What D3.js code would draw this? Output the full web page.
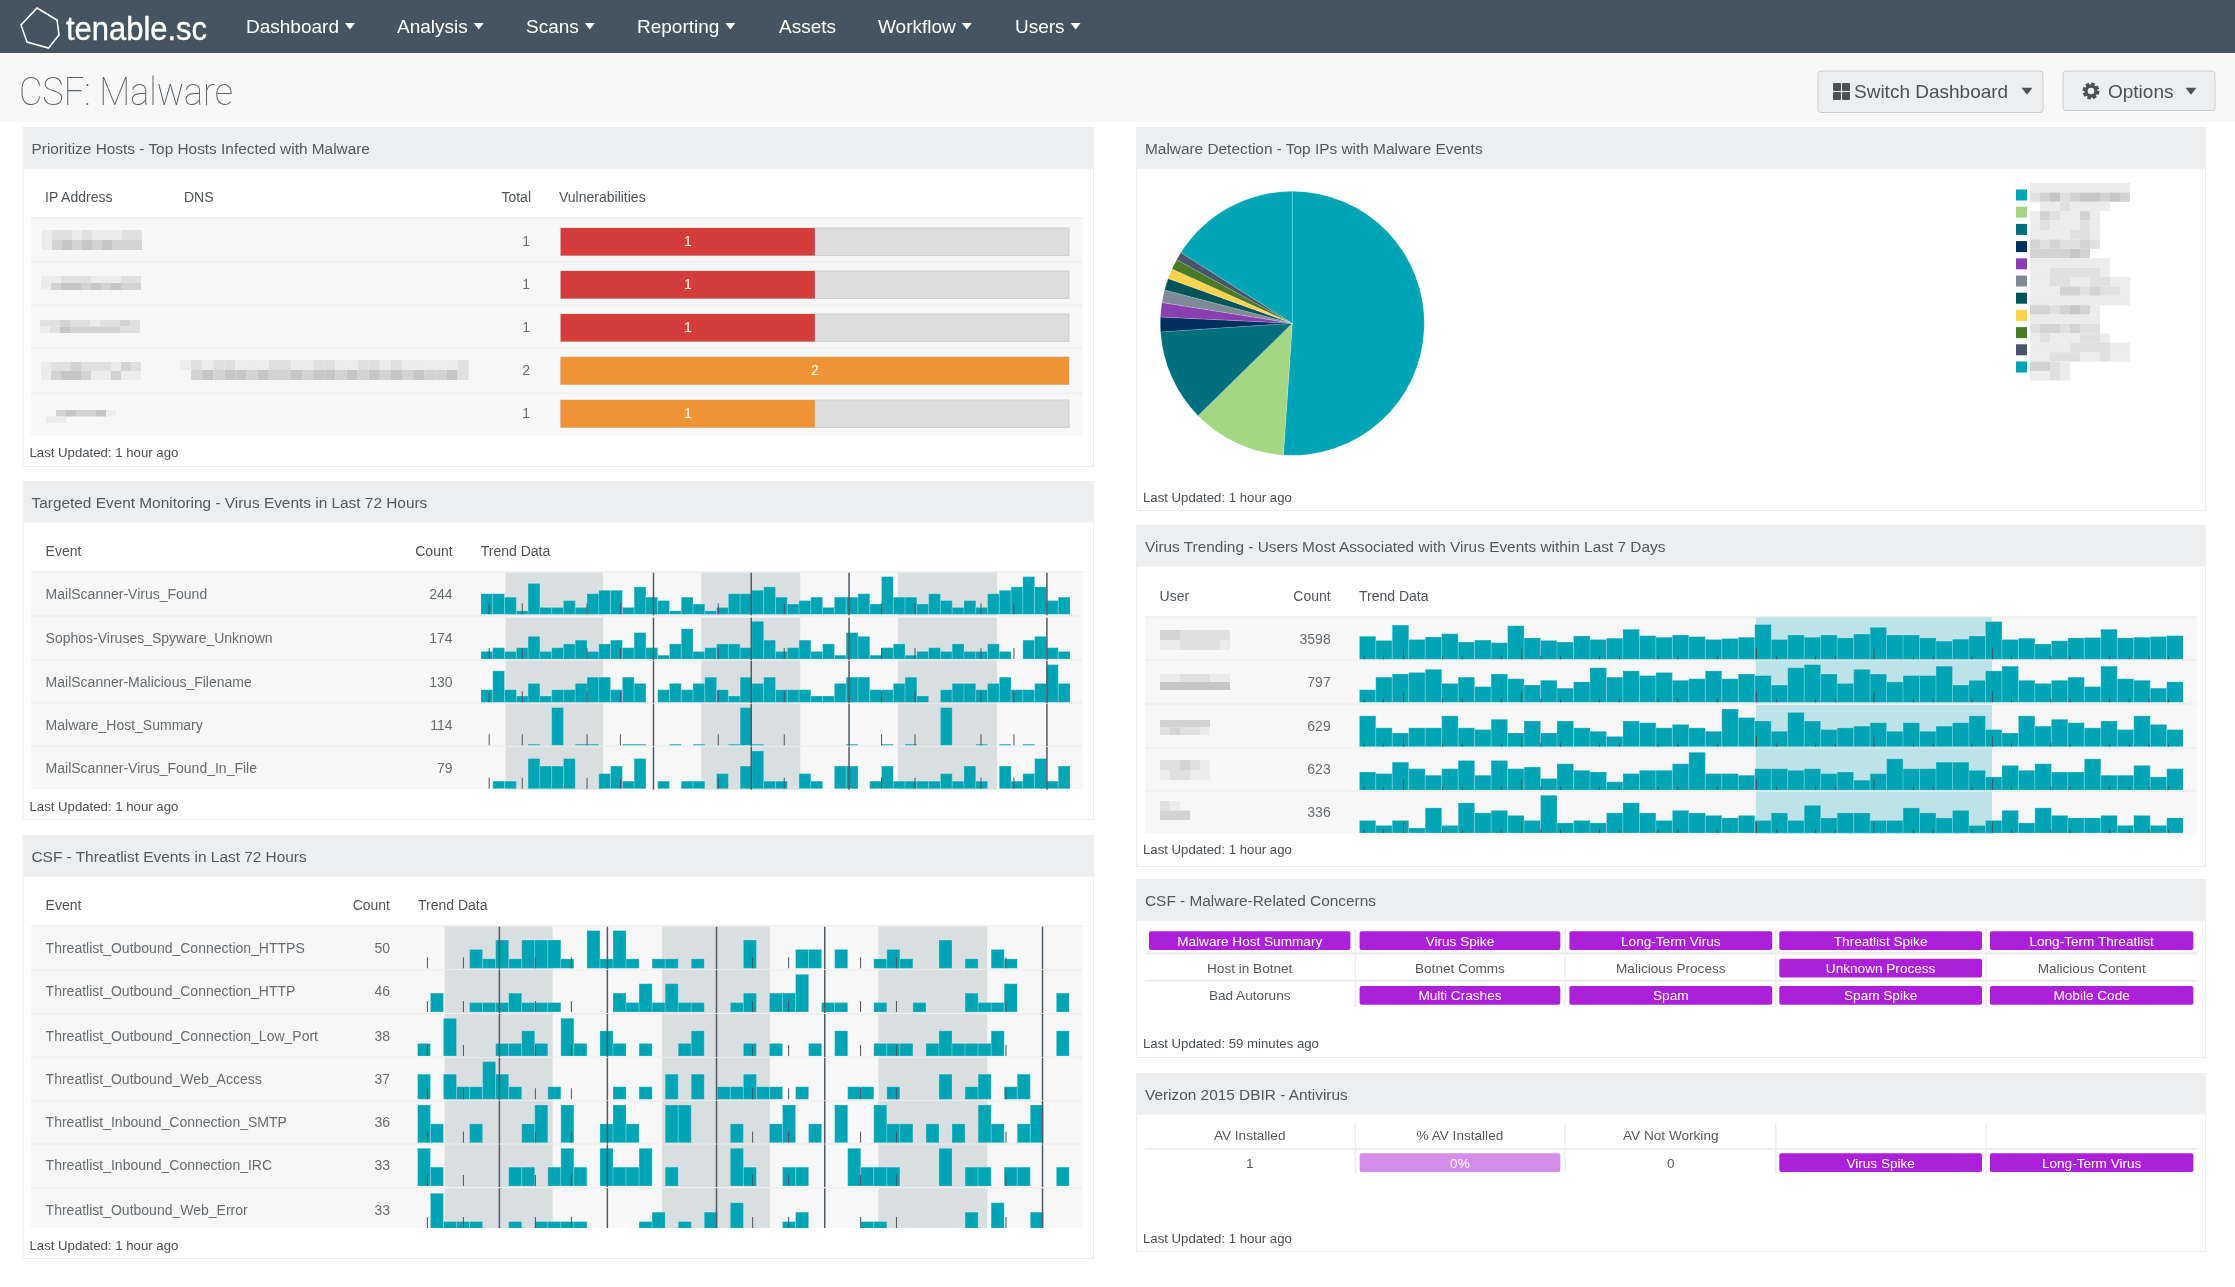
<!DOCTYPE html>
<html>
<head>
<meta charset="utf-8">
<title>CSF: Malware</title>
<script src="https://cdn.jsdelivr.net/npm/d3@7"></script>
<style>
  body { margin: 0; background: #fff; overflow: hidden; }
  text { font-family: "Liberation Sans", Arial, sans-serif; filter: blur(0.3px); }
</style>
</head>
<body>
<svg id="page" width="2235" height="1287"></svg>
<script>
// nav + page text
const navItems = ["Dashboard", "Analysis", "Scans", "Reporting", "Assets", "Workflow", "Users"];
const navHasCaret = [true, true, true, true, false, true, true];

// hosts table
const hostTotals = [1, 1, 1, 2, 1];
const hostSeverity = ["high", "high", "high", "medium", "medium"];
const hostMax = 2;

// pie (share of malware events)
const pieShares = [51.1, 11.6, 11.3, 1.8, 1.75, 1.55, 1.45, 1.25, 1.25, 1.0, 16.0];
const pieColors = ["#00a5b5", "#a4d784", "#00707e", "#00315e", "#8a3fb0", "#7e8b97", "#00555a", "#fdd24e", "#4a7a24", "#47566a", "#00a5b5"];

// virus events, 72 hours
const virusNames = ["MailScanner-Virus_Found", "Sophos-Viruses_Spyware_Unknown", "MailScanner-Malicious_Filename", "Malware_Host_Summary", "MailScanner-Virus_Found_In_File"];
const virusCounts = [244, 174, 130, 114, 79];
const virusFound = [6,6,5,1,9,2,2,4,2,6,7,7,2,8,5,4,1,5,3,1,2,6,6,7,8,5,3,4,5,2,5,5,6,3,11,5,5,3,6,4,2,4,2,6,7,8,11,8,4,5];
const sophosUnknown = [2,3,2,3,6,2,3,4,5,2,4,5,3,7,3,1,4,8,2,3,4,4,3,10,5,2,3,5,2,4,1,7,6,1,3,4,1,2,3,2,4,2,2,4,2,0,5,6,3,2];
const maliciousFilename = [2,5,2,1,3,1,2,2,3,4,4,2,4,3,0,2,3,2,3,4,2,1,4,3,4,2,2,2,1,1,3,4,4,2,2,3,4,1,0,2,3,3,2,3,4,2,2,3,6,3];
const malwareHostSummary = [0,0,0,0,1,0,33,0,1,1,0,0,1,1,0,0,1,0,1,0,0,1,33,1,0,0,0,0,0,0,0,1,0,0,1,0,1,0,0,33,0,0,1,0,1,0,1,0,0,0];
const virusFoundInFile = [0,1,1,0,4,3,3,4,0,0,2,3,1,4,0,1,0,1,1,0,2,0,3,5,1,1,0,2,1,0,3,3,0,1,3,1,1,1,1,2,1,3,1,0,3,1,2,4,1,3];
const virusBands = [[2.09, 10.36], [18.7, 27.1], [35.4, 43.8]];
const virusShortTicks = [0.65, 3.46, 8.96, 11.79, 20.1, 25.7, 33.96, 36.8, 42.4, 45.2];
const virusTallTicks = [14.6, 22.9, 31.2, 48];

// threatlist events, 72 hours
const threatNames = ["Threatlist_Outbound_Connection_HTTPS", "Threatlist_Outbound_Connection_HTTP", "Threatlist_Outbound_Connection_Low_Port", "Threatlist_Outbound_Web_Access", "Threatlist_Inbound_Connection_SMTP", "Threatlist_Inbound_Connection_IRC", "Threatlist_Outbound_Web_Error"];
const threatCounts = [50, 46, 38, 37, 36, 33, 33];
const threatHttps = [0,0,0,0,2,1,3,1,3,3,3,1,0,4,1,4,1,0,1,1,0,1,0,0,0,3,0,0,0,2,2,0,2,0,0,1,2,1,0,0,3,0,1,0,2,1,0,0,0,0];
const threatHttp = [0,2,0,0,1,1,1,2,1,1,1,0,0,0,0,2,1,3,1,3,1,1,0,0,1,2,0,2,2,4,0,1,1,0,0,1,0,0,1,0,0,0,2,1,1,3,0,0,0,2];
const threatLowPort = [1,0,3,0,0,0,1,1,2,1,0,3,1,0,2,1,0,1,0,0,1,2,0,0,0,1,0,1,0,0,1,0,2,0,0,1,1,1,0,1,2,1,1,1,2,0,0,0,0,2];
const threatWebAccess = [2,0,2,1,1,3,2,1,0,0,1,0,0,0,0,1,0,1,0,2,0,2,0,1,1,2,1,1,0,1,0,0,0,1,1,0,1,0,0,0,2,0,1,2,0,1,2,0,0,0];
const threatSmtp = [2,1,0,0,1,0,0,0,1,2,0,2,0,0,1,2,1,0,0,2,2,0,0,0,1,0,0,1,2,0,1,0,2,0,0,2,1,1,0,1,0,1,0,2,1,0,1,2,0,0];
const threatIrc = [2,1,0,0,0,0,0,1,1,0,1,2,1,0,2,1,1,2,0,1,0,0,0,0,2,1,0,0,1,1,0,0,0,2,1,1,1,0,0,0,2,0,1,1,0,1,1,0,0,1];
const threatWebError = [0,4,1,1,1,0,0,1,0,1,1,1,1,0,0,0,0,1,2,0,1,0,2,0,3,0,0,0,1,2,0,0,0,0,1,1,0,0,0,0,0,0,2,0,3,0,0,2,0,0];
const threatBands = [[2.09, 10.37], [18.76, 27.04], [35.35, 43.7]];
const threatShortTicks = [0.73, 3.49, 9.01, 11.77, 25.67, 28.43, 33.95, 36.7, 45.1];
const threatTallTicks = [6.25, 14.53, 22.9, 31.2, 47.9];

// virus trending, 7 days
const userCounts = [3598, 797, 629, 623, 336];
const userTrendA = [72,59,107,62,70,80,54,60,52,105,67,59,54,73,62,66,94,74,69,76,71,62,65,69,109,62,76,69,76,67,79,100,76,76,67,57,63,73,118,62,66,48,58,67,68,94,67,69,71,74];
const userTrendB = [8,16,18,19,21,12,16,10,18,15,11,14,9,13,22,16,20,17,19,14,15,20,15,18,17,11,22,24,18,12,21,18,13,17,17,23,11,14,20,23,14,12,14,16,10,23,15,14,9,13];
const userTrendC = [18,11,8,11,11,18,11,10,16,8,15,8,15,11,9,6,15,14,11,13,11,9,22,17,15,9,20,15,10,11,12,14,9,14,9,12,14,18,10,8,18,12,16,14,11,15,10,18,13,10];
const userTrendD = [11,10,17,13,9,13,18,9,18,13,14,7,16,12,11,5,10,12,12,16,23,10,10,9,13,13,12,13,10,11,6,10,19,13,13,17,17,12,8,15,12,16,11,11,19,9,9,15,8,13];
const userTrendE = [5,3,5,2,10,3,12,8,9,7,5,15,4,5,4,8,12,8,5,9,8,7,6,7,5,8,5,11,6,8,8,5,5,10,8,6,9,3,5,9,4,10,7,6,6,7,3,7,3,6];
const userBands = [[24.07, 38.4]];
const userShortTicks = [0.27, 1.43, 5.03, 6.22, 8.59, 10.99, 12.18, 14.55, 15.75, 18.1, 19.3, 21.7, 25.3, 27.66, 28.86, 33.6, 34.8, 37.15, 39.55, 41.94, 43.1, 45.5, 46.7, 47.9, 49.07];
const userMidTicks = [2.66, 9.82, 24.07, 31.2, 38.4];

// concerns matrix: name, then whether the cell is lit
const concernLabels = [
  ["Malware Host Summary", "Virus Spike", "Long-Term Virus", "Threatlist Spike", "Long-Term Threatlist"],
  ["Host in Botnet", "Botnet Comms", "Malicious Process", "Unknown Process", "Malicious Content"],
  ["Bad Autoruns", "Multi Crashes", "Spam", "Spam Spike", "Mobile Code"]
];
const concernLit = [[1, 1, 1, 1, 1], [0, 0, 0, 1, 0], [0, 1, 1, 1, 1]];
const avHeader = ["AV Installed", "% AV Installed", "AV Not Working", "", ""];
const avValues = ["1", "0%", "0", "Virus Spike", "Long-Term Virus"];

// redacted names, digits are how dark each mosaic cell is
const hostBlur = [
  ["1221211122", "1343434333"],
  ["1122211122", "1344343433"],
  ["2232212232", "1243333322"],
  ["1223222132", "1344311311"],
  ["0343341", "1100000"]
];
const dnsBlur = ["12122111221122112212111112", "03434434334344343434343342"];
const userBlur = [
  ["3322222", "1122221"],
  ["1122211", "4444444"],
  ["33333", "23221"],
  ["22321", "12211"],
  ["210", "333"]
];
const legendBlur = [
  "1111111111", "2342344343", "0112111100", "1321131000", "1211121000",
  "1111221000", "3232232000", "3333430000", "1111111100", "1122222100",
  "1122112211", "1113323221", "1111111111", "3323431000", "1111111000",
  "2332322000", "1211122100", "1111222211", "1122211211", "3321000000", "1121000000"
];

const svg = d3.select("#page");
const TEAL = "#00a5b5";
const PURPLE = "#ab20d8";
const shades = ["#ffffff", "#ececec", "#e0e0e0", "#d3d3d3", "#c6c6c6"];

svg.append("defs").append("filter").attr("id", "soft")
  .append("feGaussianBlur").attr("stdDeviation", 0.7);

function label(g, x, y, str, size, color, anchor) {
  return g.append("text")
    .attr("x", x).attr("y", y)
    .attr("dy", "0.35em")
    .attr("text-anchor", anchor || "start")
    .attr("font-size", size)
    .attr("fill", color || "#5a5f63")
    .text(str);
}

function caret(g, x, y, size, color) {
  g.append("path")
    .attr("d", `M${x - size},${y - size * 0.6}L${x + size},${y - size * 0.6}L${x},${y + size * 0.7}Z`)
    .attr("fill", color);
}

function mosaic(x, y, cw, ch, rows) {
  const g = svg.append("g").attr("filter", "url(#soft)");
  rows.forEach((row, r) => {
    row.split("").forEach((d, c) => {
      if (d === "0") return;
      g.append("rect")
        .attr("x", x + c * cw).attr("y", y + r * ch)
        .attr("width", cw).attr("height", ch)
        .attr("fill", shades[+d]);
    });
  });
}

function panel(x, y, w, h, title, updated, updatedY) {
  svg.append("rect").attr("x", x - 0.5).attr("y", y - 0.5).attr("width", w + 1).attr("height", h + 1)
    .attr("fill", "#fff").attr("stroke", "#ededed");
  svg.append("rect").attr("x", x).attr("y", y).attr("width", w).attr("height", 40.5).attr("fill", "#edeef0");
  label(svg, x + 8, y + 21, title, 15.4, "#50595f");
  if (updated) label(svg, x + 6, updatedY, "Last Updated: " + updated, 13.2, "#4a4f53");
}

// grey row backgrounds with the thin lines between them
function tableRows(x, w, edges) {
  edges.slice(0, -1).forEach((top, i) => {
    svg.append("rect").attr("x", x).attr("y", top).attr("width", w).attr("height", edges[i + 1] - top).attr("fill", "#f7f7f7");
    svg.append("rect").attr("x", x).attr("y", top - 1).attr("width", w).attr("height", 2).attr("fill", "#f1f1f1");
  });
}

// one row of the trend column, band behind, bars, then ticks on top
function trendRow(conf, values, top, bottom, base) {
  const g = svg.append("g");
  const band = d3.scaleBand().domain(d3.range(values.length)).range(conf.range);
  const pos = d3.scaleLinear().domain([0, values.length]).range(conf.range);
  const y = d3.scaleLinear().domain([0, d3.max(values)]).range([base, base - 37.7]);
  const clipId = "clip" + Math.round(top) + "-" + Math.round(conf.range[0]);

  svg.select("defs").append("clipPath").attr("id", clipId)
    .append("rect").attr("x", conf.range[0]).attr("y", top).attr("width", conf.range[1] - conf.range[0]).attr("height", bottom - top);

  g.selectAll(".band").data(conf.bands).join("rect")
    .attr("x", d => pos(d[0]))
    .attr("width", d => pos(d[1]) - pos(d[0]))
    .attr("y", top).attr("height", bottom - top)
    .attr("fill", conf.bandColor);

  g.append("g").attr("clip-path", `url(#${clipId})`)
    .selectAll("rect").data(values.map((v, i) => [i, v]).filter(d => d[1] > 0)).join("rect")
    .attr("x", d => band(d[0]))
    .attr("width", band.bandwidth())
    .attr("y", d => y(d[1]))
    .attr("height", d => base - y(d[1]))
    .attr("fill", TEAL)
    .attr("stroke", "#ffffff")
    .attr("stroke-opacity", 0.2)
    .attr("stroke-width", 1);

  conf.ticks.forEach(t => {
    const axis = d3.axisTop(pos).tickValues(t.values).tickSize(t.size === "row" ? bottom - top : t.size).tickFormat("");
    const ag = g.append("g").attr("transform", `translate(0,${t.size === "row" ? bottom : Math.min(bottom, base)})`).call(axis);
    ag.select(".domain").remove();
    ag.selectAll("line").attr("stroke", t.color).attr("stroke-width", t.width);
  });
}

// ---- top bar ----
svg.append("rect").attr("width", 2235).attr("height", 53).attr("fill", "#445561");
svg.append("rect").attr("y", 53).attr("width", 2235).attr("height", 69).attr("fill", "#f8f8f8");
svg.append("path")
  .attr("d", "M37,8L57,20L59,35L48.5,48L27,42L21,25Z")
  .attr("fill", "none").attr("stroke", "#fff").attr("stroke-width", 1.6);
label(svg, 66, 28, "tenable.sc", 34, "#fff")
  .attr("textLength", 141).attr("lengthAdjust", "spacingAndGlyphs")
  .attr("stroke", "#fff").attr("stroke-width", 0.4);

const navX = [246, 397, 526, 637, 779, 878, 1015];
navItems.forEach((name, i) => {
  const t = label(svg, navX[i], 26, name, 19, "#fff");
  if (navHasCaret[i]) {
    const end = navX[i] + t.node().getComputedTextLength();
    caret(svg, end + 11, 26, 5, "#fff");
  }
});

label(svg, 19, 92, "CSF: Malware", 38, "#59636a")
  .attr("style", "font-family:Roboto;font-weight:100")
  .attr("textLength", 214).attr("lengthAdjust", "spacingAndGlyphs");

svg.append("rect").attr("x", 1818).attr("y", 71).attr("width", 225).attr("height", 41.5).attr("rx", 3)
  .attr("fill", "#edeef0").attr("stroke", "#c9ccce");
[[1833, 83], [1842, 83], [1833, 92], [1842, 92]].forEach(p => {
  svg.append("rect").attr("x", p[0]).attr("y", p[1]).attr("width", 8).attr("height", 8).attr("rx", 1).attr("fill", "#4a5157");
});
label(svg, 1854, 91, "Switch Dashboard", 19, "#4a5157");
caret(svg, 2027, 91, 5.5, "#4a5157");

svg.append("rect").attr("x", 2063).attr("y", 71).attr("width", 152).attr("height", 39.5).attr("rx", 3)
  .attr("fill", "#edeef0").attr("stroke", "#c9ccce");
svg.append("circle").attr("cx", 2091).attr("cy", 91).attr("r", 5).attr("fill", "none").attr("stroke", "#4a5157").attr("stroke-width", 3.4);
svg.append("circle").attr("cx", 2091).attr("cy", 91).attr("r", 7.2).attr("fill", "none").attr("stroke", "#4a5157").attr("stroke-width", 2.6).attr("stroke-dasharray", "3.6 2.05");
label(svg, 2108, 91, "Options", 19, "#4a5157");
caret(svg, 2191, 91, 5.5, "#4a5157");

// ---- hosts panel ----
panel(23.5, 128, 1069.5, 338, "Prioritize Hosts - Top Hosts Infected with Malware", "1 hour ago", 452);
label(svg, 45, 197, "IP Address", 14, "#4f5458");
label(svg, 184, 197, "DNS", 14, "#4f5458");
label(svg, 531, 197, "Total", 14, "#4f5458", "end");
label(svg, 559, 197, "Vulnerabilities", 14, "#4f5458");

const hostEdges = [218, 262, 305, 348, 393, 436];
tableRows(31, 1052, hostEdges);
const hostX = d3.scaleLinear().domain([0, hostMax]).range([560.7, 1069]);
const hostBarTop = [228, 271, 314, 357, 400];
const severityColor = { high: "#d43d3a", medium: "#ee9336" };
hostTotals.forEach((v, i) => {
  svg.append("rect").attr("x", hostX(0)).attr("y", hostBarTop[i]).attr("width", hostX(hostMax) - hostX(0)).attr("height", 27.5)
    .attr("fill", "#dcdcdc").attr("stroke", "#cfcfcf");
  svg.append("rect").attr("x", hostX(0)).attr("y", hostBarTop[i]).attr("width", hostX(v) - hostX(0)).attr("height", 27.5)
    .attr("fill", severityColor[hostSeverity[i]]);
  label(svg, (hostX(0) + hostX(v)) / 2, hostBarTop[i] + 13.5, v, 14, "#fff", "middle");
  label(svg, 530, hostBarTop[i] + 13.5, v, 14, "#6a6f73", "end");
});
[[42, 230, 10], [41, 276, 7], [40, 320, 6.5], [41, 362, 9], [46, 410, 6.5]].forEach((m, i) => mosaic(m[0], m[1], 10, m[2], hostBlur[i]));
mosaic(180, 360, 11.1, 10, dnsBlur);

// ---- pie panel ----
panel(1137, 128, 1068, 382, "Malware Detection - Top IPs with Malware Events", "1 hour ago", 497);
const pie = d3.pie().sort(null).value(d => d)(pieShares);
const arc = d3.arc().innerRadius(0).outerRadius(132);
svg.append("g").attr("transform", "translate(1292.3,323.3)")
  .selectAll("path").data(pie).join("path")
  .attr("d", arc)
  .attr("fill", (d, i) => pieColors[i])
  .attr("stroke", "#fff").attr("stroke-opacity", 0.25).attr("stroke-width", 0.7);
const legendY = d3.scalePoint().domain(d3.range(pieShares.length)).range([195, 367]);
pieColors.forEach((c, i) => {
  svg.append("rect").attr("x", 2016).attr("y", legendY(i) - 5.5).attr("width", 11).attr("height", 11).attr("fill", c);
});
mosaic(2030, 183, 10, 9.4, legendBlur);

// ---- virus events panel ----
panel(23.5, 482, 1069.5, 337, "Targeted Event Monitoring - Virus Events in Last 72 Hours", "1 hour ago", 806);
label(svg, 45.6, 551, "Event", 14, "#4f5458");
label(svg, 452.6, 551, "Count", 14, "#4f5458", "end");
label(svg, 480.7, 551, "Trend Data", 14, "#4f5458");
tableRows(31, 1052, [572, 616, 660, 703, 746, 789]);

const virusConf = {
  range: [481, 1070], bands: virusBands, bandColor: "#d9dee0",
  ticks: [
    { values: virusShortTicks, size: 11, color: "#4a5560", width: 1 },
    { values: virusTallTicks, size: "row", color: "#4f5c68", width: 1.5 }
  ]
};
const virusSeries = [virusFound, sophosUnknown, maliciousFilename, malwareHostSummary, virusFoundInFile];
const virusTop = [572.7, 617.7, 660.7, 704, 747];
const virusBase = [614.3, 659, 702.3, 745.3, 788.7];
virusNames.forEach((name, i) => {
  label(svg, 45.6, virusBase[i] - 20.5, name, 14, "#666c70");
  label(svg, 452.6, virusBase[i] - 20.5, virusCounts[i], 14, "#666c70", "end");
  trendRow(virusConf, virusSeries[i], virusTop[i], virusBase[i] + 1, virusBase[i]);
});

// ---- threatlist panel ----
panel(23.5, 836, 1069.5, 422, "CSF - Threatlist Events in Last 72 Hours", "1 hour ago", 1245);
label(svg, 45.6, 905, "Event", 14, "#4f5458");
label(svg, 390, 905, "Count", 14, "#4f5458", "end");
label(svg, 418, 905, "Trend Data", 14, "#4f5458");
tableRows(31, 1052, [926, 970, 1014, 1057, 1101, 1144, 1188, 1228]);

const threatConf = {
  range: [417.4, 1069.4], bands: threatBands, bandColor: "#d9dee0",
  ticks: [
    { values: threatShortTicks, size: 11, color: "#4a5560", width: 1 },
    { values: threatTallTicks, size: "row", color: "#4f5c68", width: 1.5 }
  ]
};
const threatSeries = [threatHttps, threatHttp, threatLowPort, threatWebAccess, threatSmtp, threatIrc, threatWebError];
const threatTop = [926.7, 970, 1014, 1057.7, 1101, 1144.3, 1188.3];
const threatBase = [968.3, 1012, 1056, 1099.3, 1142.7, 1186, 1231];
const threatTextY = [948, 991, 1036, 1079, 1122, 1165, 1210];
threatNames.forEach((name, i) => {
  label(svg, 45.6, threatTextY[i], name, 14, "#666c70");
  label(svg, 390, threatTextY[i], threatCounts[i], 14, "#666c70", "end");
  trendRow(threatConf, threatSeries[i], threatTop[i], Math.min(threatBase[i] + 1, 1228), threatBase[i]);
});

// ---- virus trending panel ----
panel(1137, 526, 1068, 340, "Virus Trending - Users Most Associated with Virus Events within Last 7 Days", "1 hour ago", 849);
label(svg, 1159.6, 595.7, "User", 14, "#4f5458");
label(svg, 1330.7, 595.7, "Count", 14, "#4f5458", "end");
label(svg, 1359, 595.7, "Trend Data", 14, "#4f5458");
tableRows(1145, 1052, [617, 660, 704, 748, 791, 833.5]);

const userConf = {
  range: [1359.3, 2183.2], bands: userBands, bandColor: "#bbe3e8",
  ticks: [
    { values: userShortTicks, size: 3.5, color: "#4a5560", width: 1 },
    { values: userMidTicks, size: 11, color: "#4a5560", width: 1 }
  ]
};
const userSeries = [userTrendA, userTrendB, userTrendC, userTrendD, userTrendE];
const userTop = [617.3, 660.7, 705, 748.3, 791.7];
const userBase = [659.3, 702.3, 746.7, 790, 833];
userCounts.forEach((c, i) => {
  label(svg, 1330.7, userBase[i] - 20.5, c, 14, "#666c70", "end");
  trendRow(userConf, userSeries[i], userTop[i], userBase[i] + 1, userBase[i]);
});
[[630, 10], [674, 8], [720, 7.5], [760, 10], [801, 9.5]].forEach((m, i) => mosaic(1160, m[0], 10, m[1], userBlur[i]));

// ---- concerns + antivirus panels ----
const cellX = [[1149, 1350.4], [1359.6, 1560.3], [1569.4, 1772.2], [1779.3, 1982], [1989.9, 2193.4]];
const cellLines = [1355.4, 1565, 1775.8, 1986];

function cell(col, top, str, lit, fade) {
  const mid = (cellX[col][0] + cellX[col][1]) / 2;
  if (lit) {
    svg.append("rect").attr("x", cellX[col][0]).attr("y", top).attr("width", cellX[col][1] - cellX[col][0]).attr("height", 18.7)
      .attr("rx", 2).attr("fill", fade ? "#d48eea" : PURPLE);
  }
  label(svg, mid, top + 9.5, str, 13.6, lit ? "#fff" : "#55595c", "middle");
}

panel(1137, 880, 1068, 177, "CSF - Malware-Related Concerns", "59 minutes ago", 1043.7);
cellLines.forEach(x => svg.append("line").attr("x1", x).attr("x2", x).attr("y1", 928).attr("y2", 1007).attr("stroke", "#ececec").attr("stroke-width", 1.5));
[953.3, 980.7].forEach(y => svg.append("line").attr("x1", 1145).attr("x2", 2197).attr("y1", y).attr("y2", y).attr("stroke", "#ececec").attr("stroke-width", 2));
const concernTop = [931.3, 958.7, 986];
concernLabels.forEach((row, r) => {
  row.forEach((name, c) => cell(c, concernTop[r], name, concernLit[r][c]));
});

panel(1137, 1074, 1068, 177, "Verizon 2015 DBIR - Antivirus", "1 hour ago", 1238);
cellLines.forEach(x => svg.append("line").attr("x1", x).attr("x2", x).attr("y1", 1122.7).attr("y2", 1174).attr("stroke", "#ececec").attr("stroke-width", 1.5));
svg.append("line").attr("x1", 1145).attr("x2", 2197).attr("y1", 1149).attr("y2", 1149).attr("stroke", "#ececec").attr("stroke-width", 2);
avHeader.forEach((name, c) => cell(c, 1126, name, false));
avValues.forEach((v, c) => cell(c, 1153.3, v, c >= 1 && c !== 2, c === 1));
</script>
</body>
</html>
